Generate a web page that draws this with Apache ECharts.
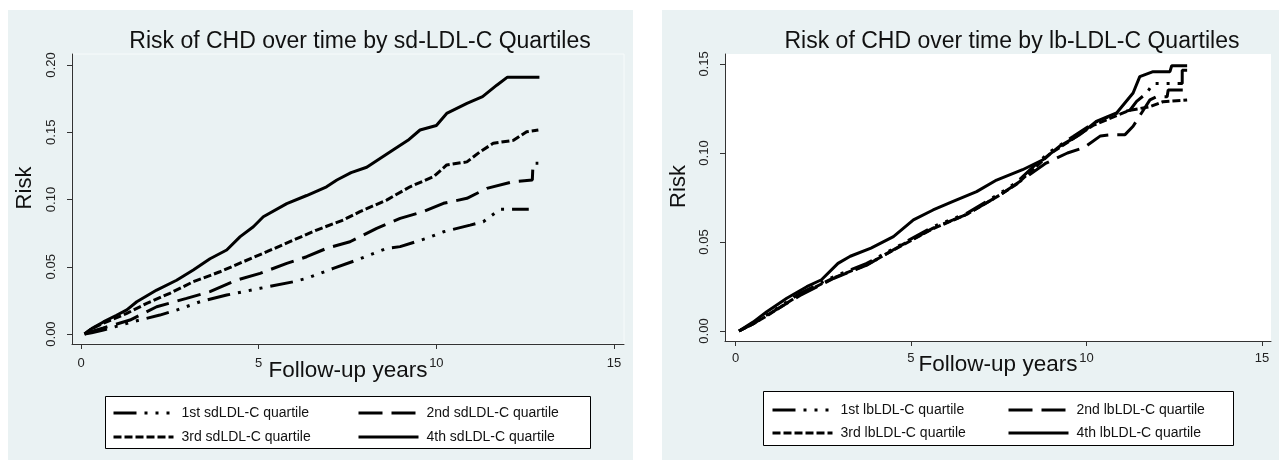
<!DOCTYPE html>
<html>
<head>
<meta charset="utf-8">
<script src="https://cdn.jsdelivr.net/npm/echarts@6/dist/echarts.min.js"></script>
<style>
html, body { margin: 0; padding: 0; background: #fff; }
#wrap { position: relative; width: 1284px; height: 461px; }
.panel { position: absolute; background: #eaf2f3; }
#chart { position: absolute; left: 0; top: 0; width: 1284px; height: 461px; }
</style>
</head>
<body>
<div id="wrap">
  <div class="panel" style="left:8px;top:10px;width:625px;height:450px"></div>
  <div class="panel" style="left:662px;top:10px;width:617px;height:450px"></div>
  <div id="chart"></div>
</div>
<script>
var FONT = '"Liberation Sans", Arial, sans-serif';

var xTicks = [0, 5, 10, 15];
var sdTicks = [0, 0.05, 0.10, 0.15, 0.20];
var lbTicks = [0, 0.05, 0.10, 0.15];

var sdNames = ['1st sdLDL-C quartile', '2nd sdLDL-C quartile', '3rd sdLDL-C quartile', '4th sdLDL-C quartile'];
var lbNames = ['1st lbLDL-C quartile', '2nd lbLDL-C quartile', '3rd lbLDL-C quartile', '4th lbLDL-C quartile'];

// sd-LDL-C quartiles (left panel)
var sd1Years = [0.1, 0.3, 0.63, 1.47, 2.22, 2.69, 3.35, 4.1, 5.04, 5.98, 6.35, 7.1, 7.76, 8.6, 8.98, 9.73, 10.2, 10.95, 11.32, 11.7, 11.79, 12.6];
var sd1Risk  = [0, 0.001, 0.003, 0.0092, 0.0141, 0.0178, 0.024, 0.029, 0.034, 0.0389, 0.0414, 0.0488, 0.055, 0.0637, 0.065, 0.0712, 0.076, 0.081, 0.0835, 0.091, 0.0927, 0.0927];
var sd2Years = [0.1, 0.3, 0.63, 1.38, 2.13, 2.97, 3.63, 4.38, 5.04, 5.79, 6.35, 6.91, 7.57, 8.32, 8.98, 9.63, 10.2, 10.86, 11.42, 12.17, 12.7, 12.72, 12.87];
var sd2Risk  = [0, 0.002, 0.0045, 0.0104, 0.0203, 0.0265, 0.0315, 0.0401, 0.0451, 0.0525, 0.0575, 0.0637, 0.0686, 0.0786, 0.086, 0.091, 0.0972, 0.1009, 0.1083, 0.1133, 0.1145, 0.127, 0.127];
var sd3Years = [0.1, 0.3, 0.63, 1.29, 1.85, 2.5, 3.16, 3.91, 4.57, 5.23, 5.98, 6.63, 7.38, 7.85, 8.6, 9.26, 9.92, 10.29, 10.86, 11.23, 11.6, 12.17, 12.54, 12.87];
var sd3Risk  = [0, 0.004, 0.008, 0.0154, 0.0228, 0.0303, 0.0389, 0.0463, 0.0538, 0.0612, 0.0699, 0.0773, 0.0848, 0.091, 0.0996, 0.1095, 0.117, 0.1257, 0.128, 0.1355, 0.1418, 0.144, 0.1504, 0.1517];
var sd4Years = [0.1, 0.3, 0.63, 1.0, 1.29, 1.57, 2.13, 2.69, 3.16, 3.63, 4.1, 4.48, 4.85, 5.13, 5.79, 6.35, 6.91, 7.2, 7.6, 8.04, 8.79, 9.2, 9.54, 10.0, 10.29, 10.86, 11.3, 11.7, 12.0, 12.9];
var sd4Risk  = [0, 0.004, 0.009, 0.014, 0.018, 0.024, 0.0327, 0.040, 0.0476, 0.056, 0.0625, 0.0724, 0.0798, 0.0872, 0.097, 0.103, 0.1095, 0.1145, 0.12, 0.124, 0.137, 0.144, 0.1517, 0.155, 0.164, 0.1715, 0.1765, 0.185, 0.191, 0.191];

// lb-LDL-C quartiles (right panel)
var lb1Years = [0.1, 0.5, 0.89, 1.84, 2.79, 3.74, 4.69, 5.63, 6.59, 7.54, 8.01, 8.58, 8.96, 9.62, 10.19, 10.86, 11.24, 11.43, 11.71, 11.9, 12.73, 12.73, 12.87];
var lb1Risk  = [0, 0.0045, 0.009, 0.0212, 0.0305, 0.038, 0.0483, 0.0586, 0.0661, 0.0774, 0.0835, 0.094, 0.1007, 0.1092, 0.1167, 0.1223, 0.124, 0.129, 0.1335, 0.139, 0.139, 0.1465, 0.1465];
var lb2Years = [0.1, 0.5, 0.89, 1.84, 2.79, 3.74, 4.69, 5.63, 6.59, 7.54, 8.18, 8.82, 9.46, 9.93, 10.4, 10.75, 11.1, 11.33, 11.62, 11.81, 12.0, 12.3, 12.33, 12.87];
var lb2Risk  = [0, 0.004, 0.0088, 0.02, 0.0295, 0.037, 0.0478, 0.0578, 0.0655, 0.0765, 0.085, 0.094, 0.1, 0.103, 0.1096, 0.1103, 0.1103, 0.115, 0.124, 0.1298, 0.1316, 0.1316, 0.1354, 0.1354];
var lb3Years = [0.1, 0.5, 0.89, 1.84, 2.79, 3.74, 4.69, 5.63, 6.59, 7.54, 8.01, 8.58, 8.96, 9.62, 10.19, 10.86, 11.24, 11.81, 12.18, 12.87];
var lb3Risk  = [0, 0.004, 0.0085, 0.0205, 0.0298, 0.0372, 0.0475, 0.0575, 0.0655, 0.0765, 0.0825, 0.0925, 0.0995, 0.108, 0.1155, 0.121, 0.124, 0.126, 0.1288, 0.1298];
var lb4Years = [0.1, 0.5, 0.89, 1.46, 2.03, 2.45, 2.92, 3.27, 3.86, 4.5, 5.07, 5.63, 6.2, 6.87, 7.44, 8.18, 8.76, 9.23, 9.81, 10.28, 10.86, 11.33, 11.52, 11.9, 12.38, 12.43, 12.87];
var lb4Risk  = [0, 0.005, 0.0108, 0.0184, 0.0249, 0.0288, 0.038, 0.042, 0.0466, 0.053, 0.0624, 0.068, 0.0728, 0.0783, 0.0848, 0.0906, 0.0962, 0.1037, 0.1103, 0.1178, 0.1225, 0.1337, 0.1429, 0.1457, 0.1457, 0.149, 0.149];

var dashes = [[23, 8, 3, 8, 3, 8, 3, 8], [24, 9], [8, 3], 'solid'];

function pairs(xs, ys) {
    return xs.map(function (x, i) { return [x, ys[i]]; });
}

function kmSeries(name, xs, ys, k, idx) {
    return {
        name: name,
        type: 'line',
        xAxisIndex: idx,
        yAxisIndex: idx,
        data: pairs(xs, ys),
        symbol: 'none',
        silent: true,
        lineStyle: { color: '#000', width: 3, type: dashes[k] },
        itemStyle: { color: '#000' }
    };
}

function xAxisFor(idx, min, max, gap, margin) {
    return {
        type: 'value', gridIndex: idx, min: min, max: max,
        name: 'Follow-up years', nameLocation: 'middle', nameGap: gap, nameMoveOverlap: false,
        nameTextStyle: { fontSize: 22.5, color: '#111', fontFamily: FONT },
        axisLine: { onZero: false, lineStyle: { color: '#333', width: 1 } },
        axisTick: { show: true, length: 5, customValues: xTicks, lineStyle: { color: '#333' } },
        axisLabel: { customValues: xTicks, margin: margin, fontSize: 13, color: '#222', fontFamily: FONT },
        splitLine: { show: false }
    };
}

function yAxisFor(idx, min, max, ticks, gap, shift) {
    return {
        type: 'value', gridIndex: idx, min: min, max: max,
        name: 'Risk', nameLocation: 'middle', nameGap: gap, nameRotate: 90, nameMoveOverlap: false,
        nameTextStyle: { fontSize: 22, color: '#111', fontFamily: FONT, padding: [0, 0, 0, shift] },
        axisLine: { show: true, onZero: false, lineStyle: { color: '#333', width: 1 } },
        axisTick: { show: true, length: 5, customValues: ticks, lineStyle: { color: '#333' } },
        axisLabel: {
            customValues: ticks, rotate: 90, margin: 14, fontSize: 13, color: '#222', fontFamily: FONT,
            formatter: function (v) { return v.toFixed(2); }
        },
        splitLine: { show: false }
    };
}

function legendCol(names, left, top, gap) {
    return {
        data: names, orient: 'vertical', left: left, top: top, padding: 0,
        itemWidth: 60, itemHeight: 12, itemGap: gap, selectedMode: false,
        itemStyle: { opacity: 0, borderWidth: 0 },
        lineStyle: { width: 3 },
        textStyle: { fontSize: 14, color: '#111', fontFamily: FONT, padding: [0, 0, 0, 3] }
    };
}

var chart = echarts.init(document.getElementById('chart'), null, { renderer: 'canvas' });

var option = {
    animation: false,
    backgroundColor: 'transparent',
    grid: [
        { left: 72, top: 54, width: 552, height: 290, show: true, backgroundColor: 'transparent', borderColor: '#f7fbfb', borderWidth: 1 },
        { left: 725, top: 54, width: 546, height: 287, show: true, backgroundColor: '#fff', borderWidth: 0 }
    ],
    xAxis: [
        xAxisFor(0, -0.253, 15.28, 15, 13),
        xAxisFor(1, -0.30, 15.26, 12, 11)
    ],
    yAxis: [
        yAxisFor(0, -0.0074, 0.2082, sdTicks, 36, 22),
        yAxisFor(1, -0.0056, 0.1556, lbTicks, 35, 22)
    ],
    legend: [
        legendCol([sdNames[0], sdNames[2]], 112, 406, 10),
        legendCol([sdNames[1], sdNames[3]], 357, 406, 10),
        legendCol([lbNames[0], lbNames[2]], 771, 403, 9),
        legendCol([lbNames[1], lbNames[3]], 1007, 403, 9)
    ],
    graphic: [
        { type: 'rect', shape: { x: 105.5, y: 396.5, width: 485, height: 52 }, style: { fill: '#fff', stroke: '#000', lineWidth: 1 } },
        { type: 'rect', shape: { x: 763.5, y: 391.5, width: 470, height: 54 }, style: { fill: '#fff', stroke: '#000', lineWidth: 1 } },
        { type: 'text', x: 360, y: 42, style: { text: 'Risk of CHD over time by sd-LDL-C Quartiles', fontSize: 23, fontFamily: FONT, fill: '#111', align: 'center', verticalAlign: 'middle' } },
        { type: 'text', x: 1012, y: 42, style: { text: 'Risk of CHD over time by lb-LDL-C Quartiles', fontSize: 23, fontFamily: FONT, fill: '#111', align: 'center', verticalAlign: 'middle' } }
    ],
    series: [
        kmSeries(sdNames[0], sd1Years, sd1Risk, 0, 0),
        kmSeries(sdNames[1], sd2Years, sd2Risk, 1, 0),
        kmSeries(sdNames[2], sd3Years, sd3Risk, 2, 0),
        kmSeries(sdNames[3], sd4Years, sd4Risk, 3, 0),
        kmSeries(lbNames[0], lb1Years, lb1Risk, 0, 1),
        kmSeries(lbNames[1], lb2Years, lb2Risk, 1, 1),
        kmSeries(lbNames[2], lb3Years, lb3Risk, 2, 1),
        kmSeries(lbNames[3], lb4Years, lb4Risk, 3, 1)
    ]
};

chart.setOption(option);

window.addEventListener('resize', function () {
    chart.resize();
});
</script>
</body>
</html>
